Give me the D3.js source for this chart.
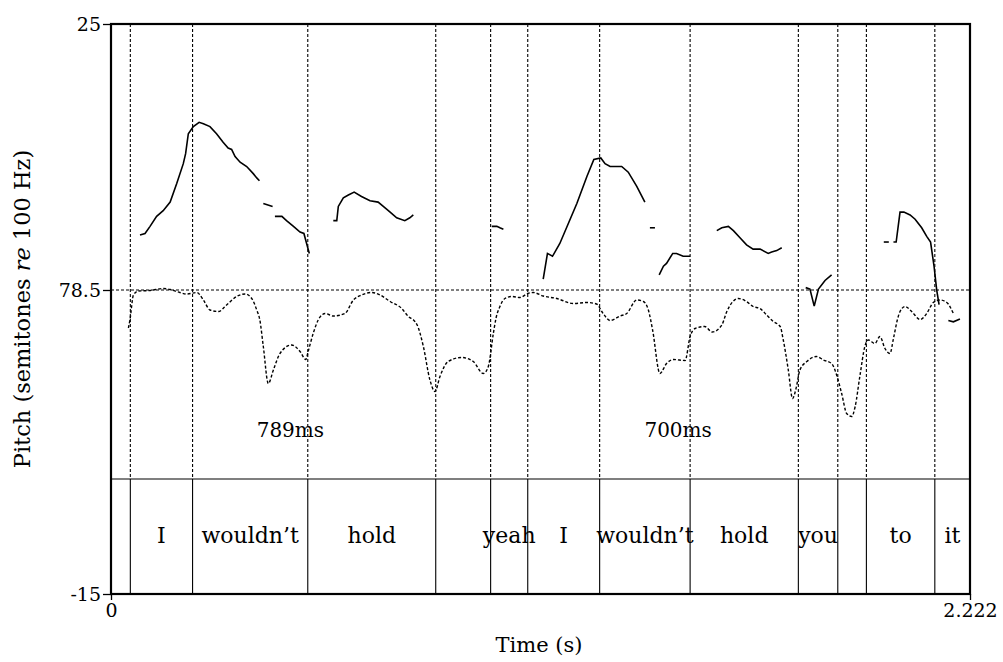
<!DOCTYPE html>
<html>
<head>
<meta charset="utf-8">
<script src="https://cdn.jsdelivr.net/npm/d3@7"></script>
<style>
  body { margin: 0; background: #fff; }
  text { font-family: "DejaVu Serif", serif; fill: #000; }
</style>
</head>
<body>
<div id="chart"></div>
<script>
// time-aligned word tier (seconds)
const boundaries = [0.050, 0.211, 0.509, 0.840, 0.982, 1.078, 1.264, 1.498, 1.778, 1.880, 1.954, 2.131];
const words = ["", "I", "wouldn\u2019t", "hold", "", "yeah", "I", "wouldn\u2019t", "hold", "you", "", "to", "it"];
const tEnd = 2.222;

// pitch track (semitones re 100 Hz), one array per voiced stretch: [time, st]
const pitchSegments = [
  [[0.075,10.2],[0.088,10.3],[0.101,10.8],[0.118,11.5],[0.135,11.9],[0.153,12.5],[0.170,13.8],[0.187,15.2],
   [0.193,15.9],[0.200,17.3],[0.213,17.8],[0.228,18.1],[0.239,18.0],[0.256,17.8],[0.273,17.3],[0.290,16.7],
   [0.303,16.3],[0.312,16.2],[0.321,15.7],[0.334,15.3],[0.351,15.0],[0.368,14.5],[0.377,14.2],[0.384,14.0]],
  [[0.394,12.4],[0.418,12.2]],
  [[0.424,11.5],[0.442,11.5],[0.454,11.2],[0.472,10.8],[0.489,10.4],[0.499,10.3],[0.506,9.6],[0.513,8.9]],
  [[0.575,11.2],[0.584,11.2],[0.588,12.2],[0.601,12.8],[0.614,13.0],[0.629,13.2],[0.648,12.9],[0.670,12.6],
   [0.691,12.5],[0.709,12.1],[0.722,11.8],[0.739,11.4],[0.760,11.2],[0.773,11.4],[0.782,11.6]],
  [[0.985,10.8],[0.998,10.8],[1.006,10.7],[1.015,10.6]],
  [[1.118,7.1],[1.129,8.9],[1.142,8.7],[1.161,9.6],[1.183,11.0],[1.205,12.4],[1.231,14.3],[1.249,15.5],
   [1.267,15.6],[1.278,15.2],[1.291,15.0],[1.321,15.0],[1.338,14.6],[1.360,13.6],[1.381,12.5]],
  [[1.394,10.7],[1.407,10.7]],
  [[1.418,7.4],[1.429,8.0],[1.437,8.2],[1.453,8.9],[1.463,8.9],[1.480,8.7],[1.498,8.7]],
  [[1.567,10.5],[1.580,10.7],[1.597,10.8],[1.610,10.5],[1.627,10.0],[1.644,9.5],[1.661,9.2],[1.679,9.2],
   [1.700,8.9],[1.709,9.0],[1.722,9.1],[1.735,9.3]],
  [[1.797,6.5],[1.808,6.4],[1.819,5.2],[1.830,6.4],[1.847,7.0],[1.864,7.4]],
  [[1.999,9.7],[2.012,9.7]],
  [[2.024,9.7],[2.031,9.7],[2.041,11.8],[2.051,11.8],[2.067,11.6],[2.080,11.3],[2.097,10.7],[2.110,10.1],
   [2.120,9.7],[2.129,8.0],[2.136,6.3],[2.142,5.3]],
  [[2.166,4.2],[2.179,4.1],[2.196,4.3]]
];

// intensity track (dB)
const intTimes = [0.045,0.049,0.058,0.071,0.101,0.135,0.153,0.178,0.196,0.222,0.239,0.256,0.278,0.299,0.325,0.347,
  0.364,0.377,0.385,0.394,0.407,0.420,0.437,0.467,0.489,0.504,0.510,0.523,0.536,0.554,0.575,0.605,0.627,0.648,
  0.674,0.696,0.722,0.752,0.769,0.786,0.792,0.808,0.825,0.838,0.851,0.872,0.907,0.937,0.963,0.976,0.989,0.996,
  1.006,1.019,1.036,1.058,1.078,1.092,1.118,1.153,1.196,1.231,1.256,1.273,1.291,1.317,1.334,1.360,1.377,1.390,
  1.401,1.420,1.437,1.455,1.485,1.498,1.511,1.536,1.555,1.580,1.593,1.623,1.644,1.661,1.679,1.696,1.713,1.731,
  1.739,1.752,1.763,1.772,1.782,1.800,1.825,1.843,1.864,1.877,1.890,1.903,1.916,1.925,1.937,1.950,1.959,1.976,
  1.989,2.002,2.015,2.024,2.034,2.041,2.054,2.071,2.093,2.110,2.127,2.144,2.162,2.179];
const intDb = [70.9,72.5,77.5,78.3,78.4,78.8,78.6,78.0,77.7,78.0,76.5,74.5,74.2,75.5,77.2,77.7,
  76.8,74.5,72.5,67.2,59.8,62.5,65.8,67.5,66.2,64.6,66.2,69.8,72.5,73.8,73.3,73.8,76.5,77.5,
  78.0,77.5,76.2,74.8,73.2,72.2,71.5,67.2,60.5,58.2,61.2,64.2,65.0,64.2,61.8,63.2,69.8,72.9,
  75.2,76.8,77.2,77.0,77.8,78.0,77.3,76.8,75.8,76.0,75.7,73.8,72.4,73.3,73.8,76.5,76.2,74.5,
  70.5,61.8,63.8,64.6,64.4,69.2,70.8,71.2,70.1,71.5,74.2,76.8,76.2,75.2,74.8,73.5,72.2,71.2,
  68.5,62.5,56.8,58.8,62.5,64.2,65.2,64.5,63.8,61.5,57.8,53.8,53.2,55.2,61.2,67.2,68.5,67.8,
  69.2,66.8,65.8,68.8,72.5,74.2,75.2,74.2,72.6,73.8,76.0,76.5,76.0,73.8];
const intRef = 78.5;

// annotations
const notes = [{t: 0.464, st: -4.0, text: "789ms"}, {t: 1.467, st: -4.0, text: "700ms"}];

const margin = {top: 24, right: 33, bottom: 68, left: 111},
      width = 1003 - margin.left - margin.right,
      height = 662 - margin.top - margin.bottom;
const tierTop = 455; // y (inner) of the word tier border

const svg = d3.select("#chart")
    .append("svg")
    .attr("width", 1003)
    .attr("height", 662)
    .append("g")
    .attr("transform", `translate(${margin.left}, ${margin.top})`);

const x = d3.scaleLinear().domain([0, tEnd]).range([0, width]);
const y = d3.scaleLinear().domain([-15, 25]).range([height, 0]);
const yI = d3.scaleLinear().domain([40, 80]).range([458.5, 258.5]);

// dotted reference line
svg.append("line")
    .attr("x1", 0).attr("x2", width)
    .attr("y1", yI(intRef)).attr("y2", yI(intRef))
    .attr("stroke", "#000").attr("stroke-width", 1)
    .attr("stroke-dasharray", "3,2");

// boundaries: dashed above the tier, solid inside it
svg.append("g").selectAll("line")
    .data(boundaries)
    .join("line")
    .attr("x1", d => x(d)).attr("x2", d => x(d))
    .attr("y1", 0).attr("y2", tierTop)
    .attr("stroke", "#000").attr("stroke-width", 1.1)
    .attr("stroke-dasharray", "3,2");
svg.append("g").selectAll("line")
    .data(boundaries)
    .join("line")
    .attr("x1", d => x(d)).attr("x2", d => x(d))
    .attr("y1", tierTop).attr("y2", height)
    .attr("stroke", "#000").attr("stroke-width", 1.1);

svg.append("line")
    .attr("x1", 0).attr("x2", width)
    .attr("y1", tierTop).attr("y2", tierTop)
    .attr("stroke", "#000").attr("stroke-width", 1.1);

// words centred in their intervals
const edges = [0, ...boundaries, tEnd];
svg.append("g").selectAll("text")
    .data(words)
    .join("text")
    .attr("x", (d, i) => x((edges[i] + edges[i + 1]) / 2))
    .attr("y", tierTop + 64)
    .attr("text-anchor", "middle")
    .attr("font-size", "22px")
    .text(d => d);

// intensity (dashed)
const iLine = d3.line()
    .x((d, i) => x(intTimes[i]))
    .y(d => yI(d))
    .curve(d3.curveMonotoneX);
svg.append("path")
    .datum(intDb)
    .attr("d", iLine)
    .attr("fill", "none")
    .attr("stroke", "#000").attr("stroke-width", 1.4)
    .attr("stroke-dasharray", "3,2");

// pitch (solid)
const pLine = d3.line()
    .x(d => x(d[0]))
    .y(d => y(d[1]));
svg.append("g").selectAll("path")
    .data(pitchSegments)
    .join("path")
    .attr("d", pLine)
    .attr("fill", "none")
    .attr("stroke", "#000").attr("stroke-width", 1.6);

svg.append("g").selectAll("text")
    .data(notes)
    .join("text")
    .attr("x", d => x(d.t))
    .attr("y", d => y(d.st))
    .attr("text-anchor", "middle")
    .attr("font-size", "20px")
    .text(d => d.text);

// frame
svg.append("rect")
    .attr("width", width).attr("height", height)
    .attr("fill", "none")
    .attr("stroke", "#000").attr("stroke-width", 2.2);

// axes
const hyphen = d => String(d).replace("\u2212", "-");
const yAxis = svg.append("g")
    .call(d3.axisLeft(y).tickValues([25, -15]).tickSize(8).tickPadding(2).tickFormat(d => hyphen(d)));
const iAxis = svg.append("g")
    .call(d3.axisLeft(yI).tickValues([intRef]).tickSize(8).tickPadding(2).tickFormat(d3.format(".1f")));
const xAxis = svg.append("g")
    .attr("transform", `translate(0, ${height})`)
    .call(d3.axisBottom(x).tickValues([0, tEnd]).tickSize(6).tickPadding(4)
      .tickFormat(d => d === 0 ? "0" : d3.format(".3f")(d)));
[yAxis, iAxis, xAxis].forEach(a => {
  a.select(".domain").remove();
  a.selectAll(".tick line").attr("stroke", "#000").attr("stroke-width", 1.3);
  a.selectAll("text").attr("font-size", "19px").attr("font-family", "DejaVu Serif");
});

// axis titles
svg.append("text")
    .attr("x", width / 2 - 1.5)
    .attr("y", height + 58)
    .attr("text-anchor", "middle")
    .attr("font-size", "21px")
    .text("Time (s)");

const yt = svg.append("text")
    .attr("transform", `translate(${-margin.left + 30}, ${height / 2}) rotate(-90)`)
    .attr("text-anchor", "middle")
    .attr("font-size", "22.5px");
yt.append("tspan").text("Pitch (semitones ");
yt.append("tspan").attr("font-style", "italic").text("re");
yt.append("tspan").text(" 100 Hz)");
</script>
</body>
</html>
